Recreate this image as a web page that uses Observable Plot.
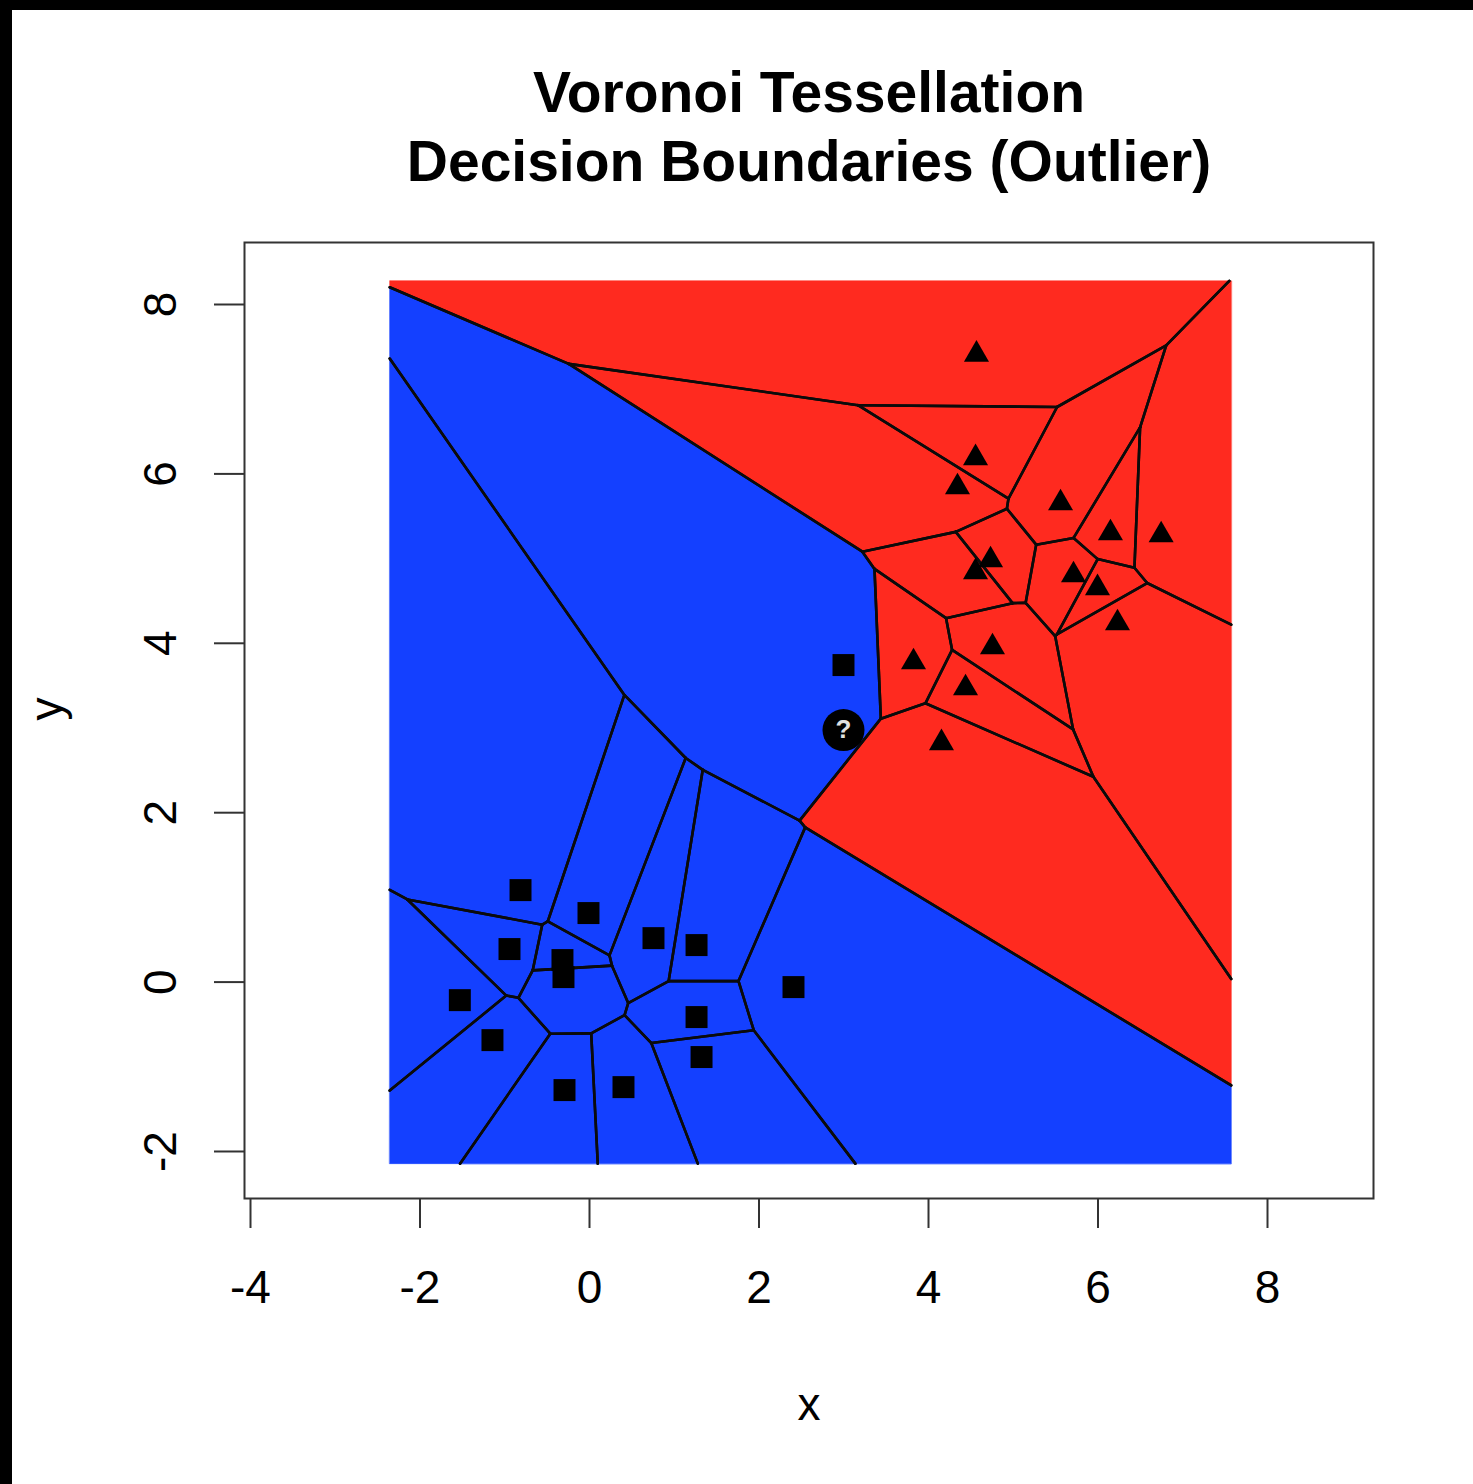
<!DOCTYPE html>
<html><head><meta charset="utf-8">
<script src="https://cdn.jsdelivr.net/npm/d3@7"></script>
<script src="https://cdn.jsdelivr.net/npm/@observablehq/plot@0.6"></script>
<style>
html,body{margin:0;padding:0;background:#000;}
#wrap{position:absolute;left:12px;top:10px;width:1461px;height:1474px;background:#fff;}
</style></head><body><div id="wrap"></div>
<script>
// Class A (squares, blue)
const squareX = [-0.814, -0.012, -0.944, -0.319, -0.307, 0.755, 1.263, 2.407, -1.530, -1.145, 1.263, 1.322, -0.295, 0.401, 2.997];
const squareY = [1.086, 0.815, 0.390, 0.260, 0.059, 0.519, 0.437, -0.059, -0.213, -0.685, -0.413, -0.885, -1.275, -1.240, 3.743];
// Class B (triangles, red)
const triangleX = [4.566, 4.555, 4.342, 5.558, 6.147, 6.745, 4.732, 4.555, 5.711, 5.994, 6.230, 4.755, 3.823, 4.437, 4.153];
const triangleY = [7.410, 6.187, 5.844, 5.655, 5.301, 5.277, 4.982, 4.841, 4.805, 4.652, 4.238, 3.955, 3.778, 3.471, 2.822];
// Outlier (unknown class)
const outlierX = [2.997];
const outlierY = [2.975];
const outlierLabel = ["?"];

const xTicks = [-4, -2, 0, 2, 4, 6, 8];
const yTicks = [-2, 0, 2, 4, 6, 8];
const titleLines = ["Voronoi Tessellation", "Decision Boundaries (Outlier)"];
const xLabel = "x", yLabel = "y";

const BLUE = "#1440FF", RED = "#FF2A1F";

const squares = squareX.map((x, i) => ({x, y: squareY[i], cls: "A"}));
const triangles = triangleX.map((x, i) => ({x, y: triangleY[i], cls: "B"}));
const outlier = outlierX.map((x, i) => ({x, y: outlierY[i], label: outlierLabel[i]}));
const sites = [...squares, ...triangles];

// Tessellation window: data extent enlarged by 10% of range on each side
const frac = 0.1;
const [x0, x1] = d3.extent(sites, d => d.x);
const [y0, y1] = d3.extent(sites, d => d.y);
const rx = x1 - x0, ry = y1 - y0;
const bounds = [x0 - frac * rx, y0 - frac * ry, x1 + frac * rx, y1 + frac * ry];
const [bx0, by0, bx1, by1] = bounds;
const vor = d3.Delaunay.from(sites, d => d.x, d => d.y).voronoi(bounds);
const cellRows = [];
const edges = [];
const eps = 1e-7;
const near = (a, b) => Math.abs(a - b) < eps;
const alongBoundary = (p, q) =>
  (near(p[0], bx0) && near(q[0], bx0)) || (near(p[0], bx1) && near(q[0], bx1)) ||
  (near(p[1], by0) && near(q[1], by0)) || (near(p[1], by1) && near(q[1], by1));
sites.forEach((s, i) => {
  const poly = vor.cellPolygon(i);
  if (!poly) return;
  poly.slice(0, -1).forEach(([x, y]) => cellRows.push({cell: i, cls: s.cls, x, y}));
  for (let k = 0; k < poly.length - 1; k++) {
    const p = poly[k], q = poly[k + 1];
    if (!alongBoundary(p, q)) edges.push({x1: p[0], y1: p[1], x2: q[0], y2: q[1]});
  }
});

const font = "Liberation Sans, Arial, Helvetica, sans-serif";
const chart = Plot.plot({
  width: 1461, height: 1474,
  marginLeft: 232, marginRight: 100, marginTop: 232, marginBottom: 286,
  x: {domain: [-4.0708, 9.2507], axis: null},
  y: {domain: [-2.555, 8.732], axis: null},
  style: {fontFamily: font, background: "#fff", color: "#000", overflow: "visible"},
  marks: [
    Plot.line(cellRows.filter(d => d.cls === "A"), {x: "x", y: "y", z: "cell", fill: BLUE, stroke: BLUE, strokeWidth: 0.6, curve: "linear-closed"}),
    Plot.line(cellRows.filter(d => d.cls === "B"), {x: "x", y: "y", z: "cell", fill: RED, stroke: RED, strokeWidth: 0.6, curve: "linear-closed"}),
    Plot.link(edges, {x1: "x1", y1: "y1", x2: "x2", y2: "y2", stroke: "#0b0b0b", strokeWidth: 2.6, strokeLinecap: "round"}),
    Plot.dot(squares, {x: "x", y: "y", symbol: "square", r: 12.4, fill: "#000", stroke: "none"}),
    Plot.dot(triangles, {x: "x", y: "y", symbol: "triangle", r: 9.3, fill: "#000", stroke: "none"}),
    Plot.dot(outlier, {x: "x", y: "y", r: 21, fill: "#000", stroke: "none"}),
    Plot.text(outlier, {x: "x", y: "y", text: "label", fill: "#e0e0e0", fontSize: 26, fontWeight: "bold"}),
    Plot.frame({stroke: "#333", strokeWidth: 2}),
    Plot.axisX({ticks: xTicks, tickSize: 30, tickPadding: 42, tickFormat: d => String(d), fontSize: 46, label: null, stroke: "#333", strokeWidth: 2}),
    Plot.axisY({ticks: yTicks, tickSize: 30, tickFormat: () => "", label: null, stroke: "#333", strokeWidth: 2}),
    Plot.text(yTicks, {y: d => d, text: d => String(d), frameAnchor: "left", dx: -83.5, rotate: -90, fontSize: 46, lineAnchor: "middle", textAnchor: "middle"}),
    Plot.text([xLabel], {text: d => d, frameAnchor: "bottom", dy: 221, fontSize: 46}),
    Plot.text([yLabel], {text: d => d, frameAnchor: "left", dx: -197.7, rotate: -90, fontSize: 46}),
    Plot.text([titleLines[0]], {text: d => d, frameAnchor: "top", dy: -171, fontSize: 57, fontWeight: "bold"}),
    Plot.text([titleLines[1]], {text: d => d, frameAnchor: "top", dy: -102, fontSize: 57, fontWeight: "bold"})
  ]
});
document.getElementById("wrap").appendChild(chart);
</script></body></html>
